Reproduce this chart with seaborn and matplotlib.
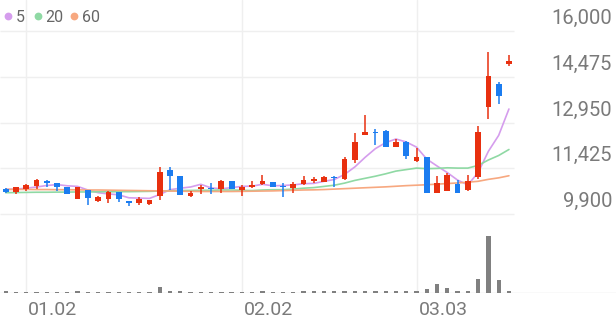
import numpy as np
import pandas as pd
import matplotlib
matplotlib.use("Agg")
import matplotlib.pyplot as plt
import seaborn as sns
from matplotlib.lines import Line2D

# ---------------- data ----------------
opens  = [10720, 10630, 10730, 10830, 11000, 10920, 10790, 10410, 10700, 10340,
          10390, 10620, 10310, 10260, 10220, 10500, 11370, 11170, 10500, 10740,
          10760, 10740, 10990, 10700, 10790, 10890, 10970, 10830, 10770, 10900,
          10990, 10980, 11140, 11080, 11700, 12520, 12630, 12680, 12120, 12310,
          11660, 11790, 10610, 10680, 10900, 10700, 11140, 13480, 14240, 14900]
highs  = [10770, 10810, 10900, 11080, 11020, 10930, 10800, 10800, 10710, 10500,
          10670, 10630, 10330, 10460, 10370, 11480, 11460, 11170, 10670, 10870,
          10920, 11030, 11000, 10860, 10990, 11200, 10980, 10920, 10970, 11170,
          11120, 11170, 11170, 11790, 12590, 13200, 12720, 12690, 12390, 12320,
          12090, 11800, 11170, 11280, 11030, 11200, 12840, 15310, 14300, 15200]
lows   = [10590, 10570, 10680, 10720, 10810, 10660, 10560, 10400, 10200, 10300,
          10280, 10310, 10170, 10190, 10210, 10370, 10700, 10520, 10460, 10560,
          10560, 10590, 10740, 10500, 10770, 10870, 10790, 10480, 10590, 10880,
          10920, 10970, 10790, 11030, 11590, 12520, 12200, 12120, 12120, 11740,
          11650, 10590, 10590, 10670, 10590, 10680, 11060, 13060, 13570, 14840]
closes = [10630, 10790, 10870, 11030, 10920, 10790, 10570, 10790, 10420, 10460,
          10620, 10400, 10280, 10410, 10370, 11310, 11170, 10520, 10610, 10810,
          10720, 11010, 10740, 10810, 10860, 11000, 10790, 10800, 10900, 11030,
          11080, 11140, 11090, 11740, 12310, 12630, 12590, 12120, 12310, 11830,
          11790, 10590, 10940, 11210, 10590, 11010, 12620, 14510, 13840, 15010]
ma5    = [10720, 10730, 10760, 10800, 10850, 10880, 10840, 10820, 10700, 10610,
          10570, 10540, 10440, 10430, 10420, 10550, 10710, 10760, 10800, 10890,
          10770, 10740, 10780, 10820, 10830, 10890, 10840, 10850, 10870, 10910,
          10920, 10990, 11050, 11220, 11470, 11790, 12080, 12280, 12400, 12300,
          12130, 11730, 11500, 11280, 11030, 10870, 11280, 11990, 12520, 13400]
ma20   = [10610, 10615, 10620, 10625, 10625, 10630, 10630, 10635, 10635, 10640,
          10640, 10645, 10645, 10650, 10655, 10665, 10675, 10680, 10685, 10690,
          10690, 10700, 10700, 10690, 10680, 10700, 10710, 10710, 10730, 10760,
          10780, 10820, 10860, 10930, 11020, 11090, 11160, 11240, 11330, 11380,
          11430, 11410, 11420, 11440, 11430, 11430, 11520, 11700, 11850, 12050]
ma60   = [10720, 10720, 10720, 10715, 10715, 10710, 10710, 10705, 10700, 10700,
          10695, 10690, 10685, 10680, 10675, 10670, 10665, 10660, 10655, 10650,
          10650, 10650, 10650, 10655, 10660, 10665, 10670, 10680, 10690, 10700,
          10705, 10715, 10730, 10745, 10760, 10775, 10790, 10805, 10825, 10845,
          10860, 10875, 10895, 10915, 10935, 10960, 10990, 11055, 11105, 11175]
volume = [110, 100, 105, 100, 95, 105, 100, 110, 105, 95,
          100, 95, 90, 100, 105, 390, 120, 110, 100, 95,
          100, 95, 90, 105, 100, 110, 95, 100, 105, 110,
          115, 120, 110, 130, 140, 125, 120, 130, 115, 110,
          120, 280, 620, 320, 160, 110, 970, 4000, 900, 160]   # thousands of shares
price_ticks = [9900, 11425, 12950, 14475, 16000]
date_ticks = [2, 23, 40]
date_labels = ["01.02", "02.02", "03.03"]
ma_labels = ["5", "20", "60"]

# ---------------- style ----------------
sns.set_theme(style="white")
plt.rcParams['font.family'] = ['Roboto', 'DejaVu Sans']

RED, BLUE = '#e8300f', '#1b7cf0'
MA_COLORS = ['#d59ded', '#8fd9a4', '#f7a880']
GRID = '#efefef'
TXT = '#7a7a7a'

W, H = 616, 321
fig = plt.figure(figsize=(W / 100, H / 100), dpi=100)

# pixel layout
X0, DX = 5.7, 10.27            # x pixel of first candle, spacing
GRID_BOTTOM_PX, GRID_STEP_PX = 214.0, 45.75
PPX = (price_ticks[1] - price_ticks[0]) / GRID_STEP_PX
PRICE_BOTTOM_PX = 222
VOL_BASE_PX = 293
VOL_MAX_PX = 57

xlim = ((0 - X0) / DX, (W - X0) / DX)
ax = fig.add_axes([0, (H - PRICE_BOTTOM_PX) / H, 1, PRICE_BOTTOM_PX / H])
axv = fig.add_axes([0, (H - VOL_BASE_PX) / H, 1, (VOL_BASE_PX - PRICE_BOTTOM_PX) / H])

ylo = price_ticks[0] - (PRICE_BOTTOM_PX - GRID_BOTTOM_PX) * PPX
yhi = price_ticks[0] + GRID_BOTTOM_PX * PPX

df = pd.DataFrame(dict(i=np.arange(len(closes)), o=opens, h=highs, l=lows, c=closes,
                       ma5=ma5, ma20=ma20, ma60=ma60, vol=volume))

# grid
ax.hlines(price_ticks, xlim[0], (514 - X0) / DX, color=GRID, lw=1, zorder=0)
for a in (ax, axv):
    for t in date_ticks:
        a.axvline(t, color=GRID, lw=1, zorder=0)

# moving averages
for col, colr in zip(['ma5', 'ma20', 'ma60'], MA_COLORS):
    sns.lineplot(data=df, x='i', y=col, ax=ax, color=colr, lw=1.2, zorder=2, legend=False)

# candles
up = df.c >= df.o
colors = np.where(up, RED, BLUE)
ax.vlines(df.i, df.l, df.h, colors=colors, lw=1.1, zorder=3)
body = np.maximum((df.c - df.o).abs(), 45)
mid = (df.c + df.o) / 2
ax.bar(df.i, body, bottom=mid - body / 2, width=0.56, color=colors, lw=0, zorder=4)

ax.set_xlim(*xlim)
ax.set_ylim(ylo, yhi)
ax.set_axis_off()

# volume
axv.bar(df.i, df.vol, width=0.42, color='#808080', lw=0, zorder=3)
axv.axhline(0, color='#e2e2e2', lw=1, zorder=2)
axv.set_xlim(*xlim)
axv.set_ylim(0, max(volume) * (VOL_BASE_PX - PRICE_BOTTOM_PX) / VOL_MAX_PX)
axv.set_axis_off()

# price labels (above gridlines, right aligned)
for v in price_ticks:
    ypx = GRID_BOTTOM_PX - (v - price_ticks[0]) / PPX
    fig.text(612 / W, (H - (ypx - 7)) / H, f"{v:,}", ha='right', va='baseline',
             fontsize=14.5, color=TXT)

# date labels
for t, lab in zip(date_ticks, date_labels):
    xpx = X0 + t * DX
    fig.text((xpx + 2) / W, (H - 315) / H, lab, ha='left', va='baseline',
             fontsize=14, color=TXT)

# legend
leg_dot_x = [7.5, 37.7, 74.0]
leg_txt_x = [16.0, 45.5, 82.0]
for dx, tx, lab, colr in zip(leg_dot_x, leg_txt_x, ma_labels, MA_COLORS):
    fig.add_artist(Line2D([dx / W], [(H - 16) / H], marker='o', ms=5.6, color=colr,
                          mec='none', transform=fig.transFigure))
    fig.text(tx / W, (H - 22) / H, lab, ha='left', va='baseline', fontsize=11.5, color='#666666')

fig.savefig('out.png', dpi=100)
